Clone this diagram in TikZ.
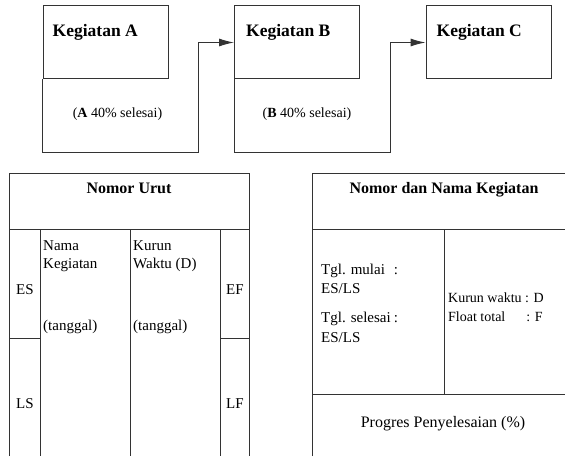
\documentclass[tikz,border=0pt]{standalone}
\usepackage{fontspec}
\setmainfont{Liberation Serif}
\usetikzlibrary{arrows.meta,positioning,calc}

\begin{document}
\begin{tikzpicture}[
    x=1pt, y=-1pt,
    node distance = 65.5pt,
    kotak/.style = {
        rectangle,
        draw=black!80,
        line width=1pt,
        minimum width=125pt,
        minimum height=73pt,
        inner sep=0pt
    },
    garis/.style = {
        draw=black!80,
        line width=1pt
    },
    panah/.style = {
        -{Latex[length=15pt,width=8pt]},
        line width=1pt,
        draw=black!80
    },
    judul/.style = {
        inner sep=0pt,
        font=\bfseries\fontsize{17.5}{20}\selectfont
    },
    kepala/.style = {
        inner sep=0pt,
        font=\bfseries\fontsize{16}{19}\selectfont
    },
    isi/.style = {
        inner sep=0pt,
        align=left,
        font=\fontsize{15}{18}\selectfont
    },
    kecil/.style = {
        inner sep=0pt,
        font=\fontsize{14}{17}\selectfont
    }
]
    \useasboundingbox (0,0) rectangle (565,460);

    % Kotak kegiatan
    \node [kotak] at (105.5,42.5) (kegA) {};
    \node [kotak, right=of kegA] (kegB) {};
    \node [kotak, right=of kegB] (kegC) {};

    \node [judul, anchor=base west] (jdlA) at ($(kegA.north west)+(10,31)$) {Kegiatan A};
    \node [judul, anchor=base west] (jdlB) at ($(kegB.north west)+(12,31)$) {Kegiatan B};
    \node [judul, anchor=base west] (jdlC) at ($(kegC.north west)+(11,31)$) {Kegiatan C};

    \node [kecil, anchor=base] (progA) at ($(kegA.south west)+(75,38)$) {(\textbf{A} 40\% selesai)};
    \node [kecil, anchor=base] (progB) at ($(kegB.south west)+(73,38)$) {(\textbf{B} 40\% selesai)};

    % Panah antar kegiatan
    \coordinate (sudutA) at ($(kegA.south west)+(156,73)$);
    \coordinate (sudutB) at ($(kegB.south west)+(156,73)$);
    \draw [panah] (kegA.south west) |- (sudutA) |- (kegB.west);
    \draw [panah] (kegB.south west) |- (sudutB) |- (kegC.west);

    % Tabel kiri
    \draw [garis] (9,456) -- (9,173) -- (249,173) -- (249,456);
    \draw [garis] (9,229) -- (249,229);
    \foreach \x in {40,130,220}
        \draw [garis] (\x,229) -- (\x,456);
    \draw [garis] (9,338) -- (40,338);
    \draw [garis] (220,338) -- (249,338);

    \node [kepala, anchor=base] (nomorUrut) at (129,193) {Nomor Urut};
    \node [isi, anchor=base] (es) at (25,294) {ES};
    \node [isi, anchor=base] (ls) at (25,408) {LS};
    \node [isi, anchor=base] (ef) at (235,294) {EF};
    \node [isi, anchor=base] (lf) at (235,408) {LF};
    \node [isi, anchor=north west] (namaKeg) at (43,240) {Nama\\Kegiatan};
    \node [isi, anchor=north west] (kurunWaktu) at (133,240) {Kurun\\Waktu (D)};
    \node [isi, anchor=base west] (tglNama) at (43,330) {(tanggal)};
    \node [isi, anchor=base west] (tglKurun) at (133,330) {(tanggal)};

    % Tabel kanan
    \draw [garis] (312,456) -- (312,173) -- (565,173);
    \draw [garis] (312,229) -- (565,229);
    \draw [garis] (444,229) -- (444,394);
    \draw [garis] (312,394) -- (565,394);

    \node [kepala, anchor=base] (nomorNama) at (444,193) {Nomor dan Nama Kegiatan};
    \node [isi, anchor=base west] (mulai) at (321,274) {\makebox[4.85em][l]{Tgl. mulai}:};
    \node [isi, anchor=base west] (mulaiIsi) at (321,293) {ES/LS};
    \node [isi, anchor=base west] (selesai) at (321,322) {\makebox[4.85em][l]{Tgl. selesai}:};
    \node [isi, anchor=base west] (selesaiIsi) at (321,342) {ES/LS};
    \node [kecil, anchor=base west] (kurun) at (448,302) {Kurun waktu : D};
    \node [kecil, anchor=base west] (float) at (448,321) {Float total\hspace{1.5em}: F};
    \node [kepala, font=\fontsize{16}{19}\selectfont, anchor=base] (progres) at (443,427) {Progres Penyelesaian (\%)};

\end{tikzpicture}
\end{document}
